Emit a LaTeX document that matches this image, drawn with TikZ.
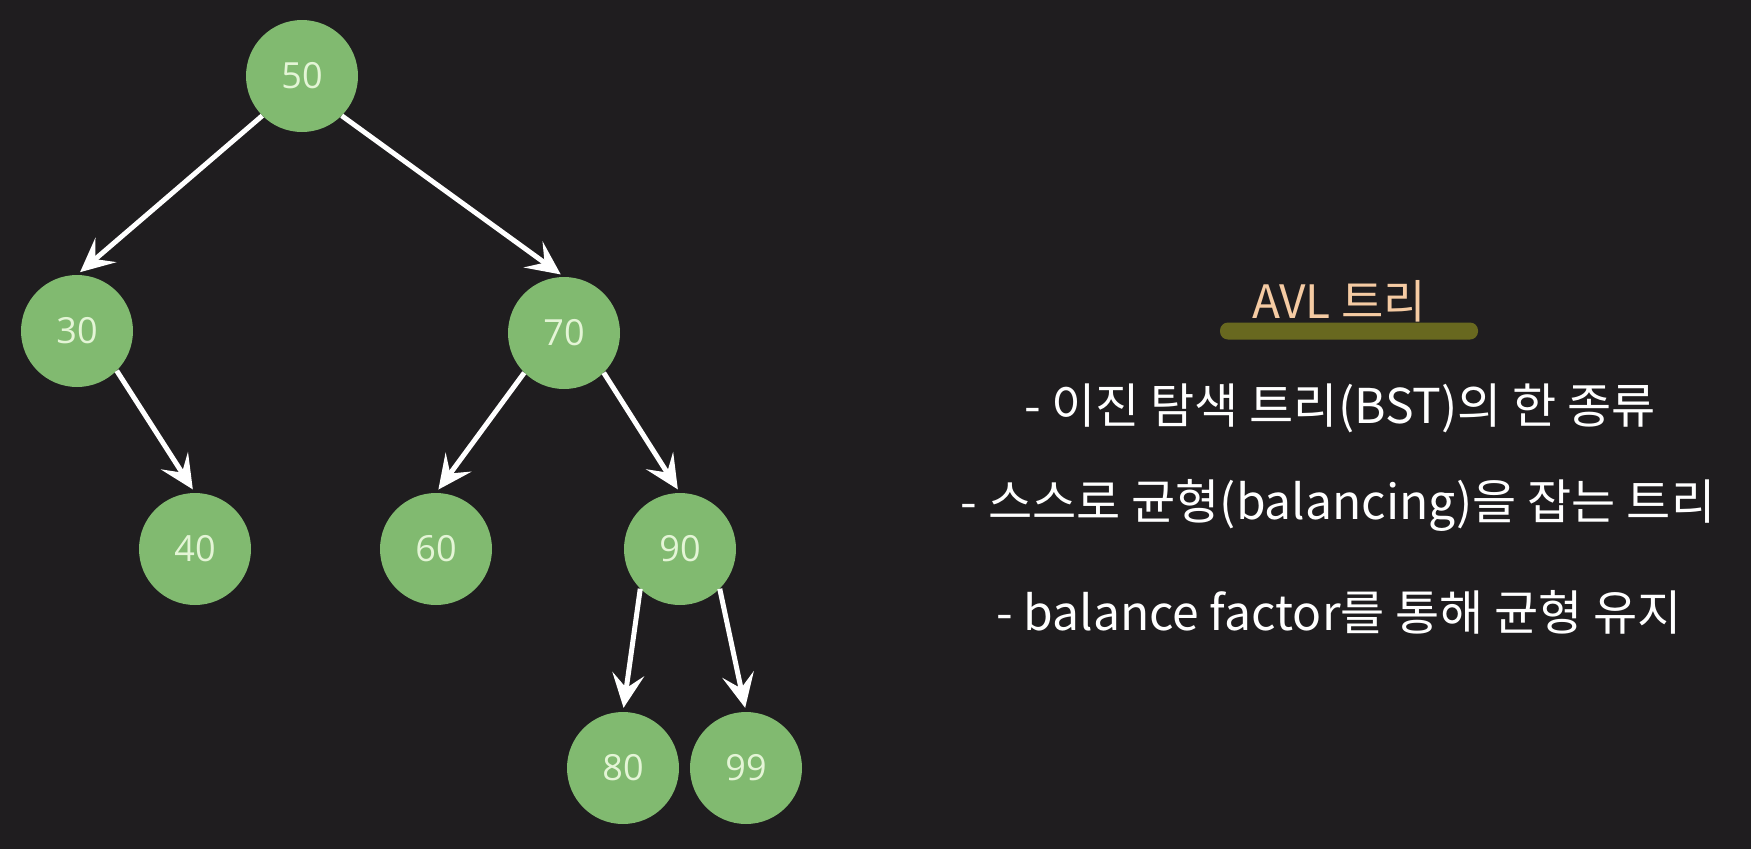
\documentclass[tikz,border=0pt]{standalone}
\usepackage{fontspec}
\setmainfont{Noto Sans CJK KR}
\newfontfamily\numfont{Open Sans}
\usetikzlibrary{arrows.meta}
\definecolor{bg}{HTML}{1F1D1F}
\definecolor{nodegreen}{HTML}{81BA70}
\definecolor{numtext}{HTML}{E4F5D6}
\definecolor{titlecol}{HTML}{F5CBA3}
\definecolor{barcol}{HTML}{68681F}
\tikzset{
  treenode/.style={circle, fill=nodegreen, minimum size=112pt, inner sep=0pt,
    text=numtext, font=\numfont\fontsize{36}{40}\selectfont},
  edge/.style={draw=white, line width=5pt, shorten >=4pt,
    -{Stealth[length=34pt, width=32pt, inset=14pt]}},
  bullet/.style={text=white, font=\fontsize{48}{52}\selectfont, inner sep=0pt},
}
\begin{document}
\begin{tikzpicture}[x=1pt, y=-1pt]
\fill[bg] (0,0) rectangle (1751,849);
\useasboundingbox (0,0) rectangle (1751,849);
\node[treenode] (n50) at (302,76) {50};
\node[treenode] (n30) at (77,331) {30};
\node[treenode] (n70) at (564,333) {70};
\node[treenode] (n40) at (195,549) {40};
\node[treenode] (n60) at (436,549) {60};
\node[treenode] (n90) at (680,549) {90};
\node[treenode] (n80) at (623,768) {80};
\node[treenode] (n99) at (746,768) {99};
\draw[edge] (n50.-135) -- (n30.north);
\draw[edge] (n50.-45) -- (n70.north);
\draw[edge] (n30.-45) -- (n40.north);
\draw[edge] (n70.-135) -- (n60.north);
\draw[edge] (n70.-45) -- (n90.north);
\draw[edge] (n90.-135) -- (n80.north);
\draw[edge] (n90.-45) -- (n99.north);
\node[fill=barcol, rounded corners=8pt, minimum width=258pt, minimum height=17pt, inner sep=0pt] (bar) at (1349,331) {};
\node[text=titlecol, font=\fontsize{46}{50}\selectfont, inner sep=0pt] (title) at (1339,301) {AVL 트리};
\node[bullet] (l1) at (1340,408) {- 이진 탐색 트리(BST)의 한 종류};
\node[bullet] (l2) at (1338,505) {- 스스로 균형(balancing)을 잡는 트리};
\node[bullet] (l3) at (1339,612) {- balance factor를 통해 균형 유지};
\end{tikzpicture}
\end{document}
